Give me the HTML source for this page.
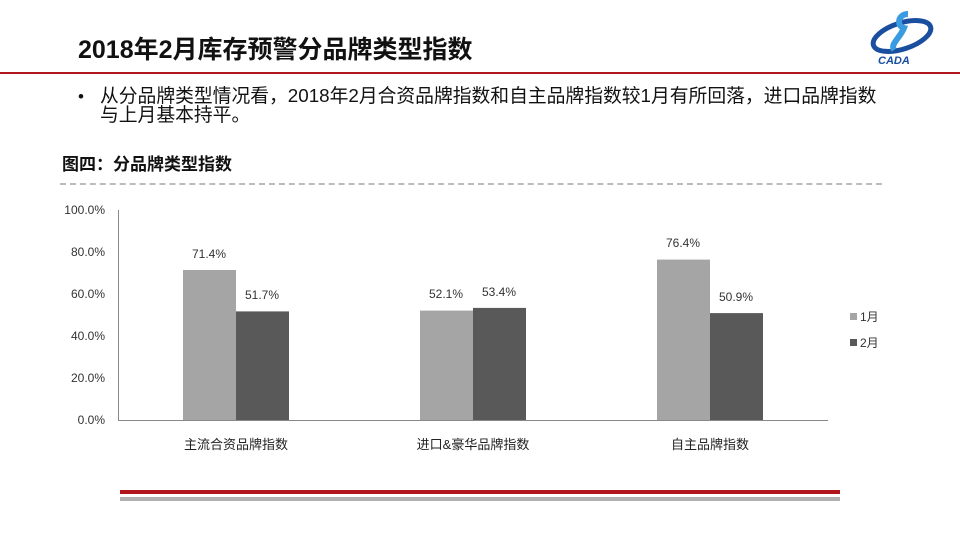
<!DOCTYPE html>
<html><head><meta charset="utf-8"><style>
body{margin:0;width:960px;height:540px;background:#fff;position:relative;overflow:hidden;font-family:"Liberation Sans","Noto Sans CJK SC",sans-serif;}
.a{position:absolute;white-space:nowrap;}
</style></head><body>
<div class="a" style="left:78px;top:30px;font-size:25px;font-weight:bold;color:#111;">2018年2月库存预警分品牌类型指数</div>
<div class="a" style="left:0;top:72px;width:960px;height:2px;background:#b0161c;"></div>
<svg class="a" style="left:868px;top:8px" width="70" height="58" viewBox="0 0 70 58">
<ellipse cx="34" cy="28" rx="30" ry="13" fill="none" stroke="#1a4fa0" stroke-width="5" transform="rotate(-18 34 28)"/>
<path d="M40 6 C30 6 28 18 36 20 C32 30 22 36 26 42" fill="none" stroke="#3b9be0" stroke-width="6"/>
<text x="10" y="56" font-size="11" font-weight="bold" font-style="italic" fill="#1a4fa0" font-family="Liberation Sans">CADA</text>
</svg>
<div class="a" style="left:78px;top:87px;font-size:17px;color:#111;">•</div>
<div class="a" style="left:100px;top:86px;font-size:18.8px;color:#111;line-height:19px;">从分品牌类型情况看，2018年2月合资品牌指数和自主品牌指数较1月有所回落，进口品牌指数<br>与上月基本持平。</div>
<div class="a" style="left:62px;top:150px;font-size:17px;font-weight:bold;color:#111;">图四：分品牌类型指数</div>
<div class="a" style="left:60px;top:183px;width:822px;border-top:2px dashed #bbb;"></div>
<svg class="a" style="left:0;top:0" width="960" height="540">
<g font-size="12" fill="#333" font-family="Liberation Sans" text-anchor="end">
<text x="105" y="214">100.0%</text><text x="105" y="256">80.0%</text><text x="105" y="298">60.0%</text><text x="105" y="340">40.0%</text><text x="105" y="382">20.0%</text><text x="105" y="424">0.0%</text></g>
<line x1="118.5" y1="210" x2="118.5" y2="420" stroke="#888"/>
<line x1="118" y1="420.5" x2="828" y2="420.5" stroke="#888"/>
<rect x="183" y="270" width="53" height="150" fill="#a5a5a5"/><rect x="236" y="311.4" width="53" height="108.6" fill="#595959"/>
<rect x="420" y="310.6" width="53" height="109.4" fill="#a5a5a5"/><rect x="473" y="307.9" width="53" height="112.1" fill="#595959"/>
<rect x="657" y="259.6" width="53" height="160.4" fill="#a5a5a5"/><rect x="710" y="313.1" width="53" height="106.9" fill="#595959"/>
<g font-size="12" fill="#333" font-family="Liberation Sans" text-anchor="middle">
<text x="209" y="258">71.4%</text><text x="262" y="299">51.7%</text>
<text x="446" y="298">52.1%</text><text x="499" y="296">53.4%</text>
<text x="683" y="247">76.4%</text><text x="736" y="301">50.9%</text></g>
<g font-size="13" fill="#222" font-family="Liberation Sans,Noto Sans CJK SC,sans-serif" text-anchor="middle">
<text x="236" y="449">主流合资品牌指数</text><text x="473" y="449">进口&amp;豪华品牌指数</text><text x="710" y="449">自主品牌指数</text></g>
<rect x="850" y="313" width="7" height="7" fill="#a5a5a5"/><rect x="850" y="339" width="7" height="7" fill="#595959"/>
<g font-size="12" fill="#333" font-family="Liberation Sans,Noto Sans CJK SC,sans-serif"><text x="860" y="321">1月</text><text x="860" y="347">2月</text></g>
<rect x="120" y="490" width="720" height="4" fill="#b0161c"/>
<rect x="120" y="497" width="720" height="4" fill="#b0b0b0"/>
</svg>
</body></html>
